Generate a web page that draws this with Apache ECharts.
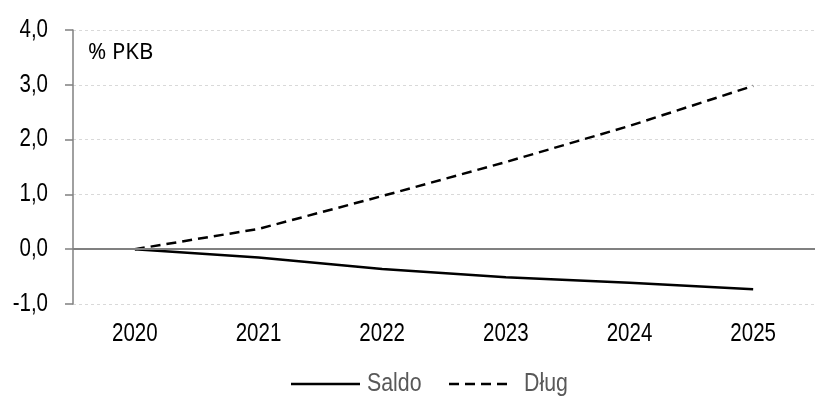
<!DOCTYPE html>
<html><head><meta charset="utf-8">
<script src="https://cdn.jsdelivr.net/npm/echarts@6/dist/echarts.min.js"></script>
<style>html,body{margin:0;padding:0;background:#fff}#c{width:815px;height:406px}</style>
</head><body><div id="c"></div>
<script>
const categories = ['2020','2021','2022','2023','2024','2025'];
const saldo = [0, -0.15, -0.36, -0.51, -0.61, -0.73];
const dlug = [0, 0.37, 0.97, 1.59, 2.25, 2.98];
const seriesNames = ['Saldo','Dług'];
const unitLabel = '% PKB';

const FONT = "'Liberation Sans', Arial, sans-serif";
const NARROW_SCALE = 0.82;
const fmt = v => v.toFixed(1).replace('.', ',');

const chart = echarts.init(document.getElementById('c'), null, {renderer:'canvas'});
chart.setOption({
  animation:false,
  backgroundColor:'#fff',
  grid:{left:73, top:30, width:753, height:274},
  legend:{show:false, data:seriesNames},
  graphic:[
    {type:'text', left:88, top:42, style:{text:unitLabel, font:"22px 'Noto Sans', sans-serif", fill:'#000'}},
    {type:'line', shape:{x1:291, y1:384, x2:360, y2:384}, style:{stroke:'#000', lineWidth:2.5}},
    {type:'text', x:367, y:384, scaleX:NARROW_SCALE, style:{text:seriesNames[0], font:"26px " + FONT, fill:'#595959', verticalAlign:'middle'}},
    {type:'line', shape:{x1:449, y1:384, x2:509, y2:384}, style:{stroke:'#000', lineWidth:2.5, lineDash:[10,6]}},
    {type:'text', x:524, y:384, scaleX:NARROW_SCALE, style:{text:seriesNames[1], font:"26px " + FONT, fill:'#595959', verticalAlign:'middle'}}
  ],
  xAxis:{
    type:'category', data:categories, boundaryGap:true,
    axisLine:{show:false, onZero:false}, axisTick:{show:false},
    axisLabel:{fontFamily:FONT, fontSize:25, color:'#000', margin:18},
    splitLine:{show:false}
  },
  yAxis:{
    type:'value', min:-1, max:4, interval:1,
    axisLine:{show:true, lineStyle:{color:'#808080', width:1.5}},
    axisTick:{show:true, length:8, lineStyle:{color:'#808080', width:1.5}},
    axisLabel:{fontFamily:FONT, fontSize:25, color:'#000', margin:25, formatter:fmt},
    splitLine:{show:true, lineStyle:{color:'#d9d9d9', type:[3,3], width:1}}
  },
  series:[
    {name:seriesNames[0], type:'line', data:saldo, symbol:'none',
      lineStyle:{color:'#000', width:2.5}, itemStyle:{color:'#000'},
      markLine:{silent:true, symbol:'none', label:{show:false},
        lineStyle:{color:'#808080', width:2, type:'solid'}, data:[{yAxis:0}]}, z:3},
    {name:seriesNames[1], type:'line', data:dlug, symbol:'none',
      lineStyle:{color:'#000', width:2.5, type:[10,6]}, itemStyle:{color:'#000'}, z:3}
  ]
});

// Narrow the axis tick labels (reference uses a condensed face)
const labelSet = new Set(categories.concat([-1,0,1,2,3,4].map(fmt)));
const zr = chart.getZr();
function walk(el){
  if (el.type === 'text' && el.style && labelSet.has(String(el.style.text))) {
    el.scaleX = NARROW_SCALE; el.markRedraw();
  }
  if (el.childrenRef) el.childrenRef().forEach(walk);
}
zr.storage.getRoots().forEach(walk);
zr.refreshImmediately();
</script></body></html>
